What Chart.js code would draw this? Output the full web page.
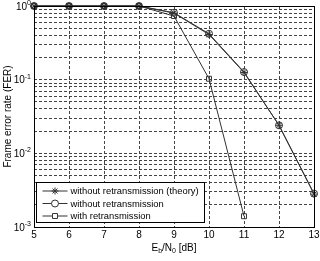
<!DOCTYPE html>
<html>
<head>
<meta charset="utf-8">
<script src="https://cdn.jsdelivr.net/npm/chart.js@4.4.1/dist/chart.umd.min.js"></script>
<style>
html, body { margin: 0; padding: 0; background: #fff; }
#wrap { width: 320px; height: 261px; }
</style>
</head>
<body>
<div id="wrap"><canvas id="ferChart"></canvas></div>
<script>
// Eb/N0 in dB
const snrValues = [5, 6, 7, 8, 9, 10, 11, 12, 13];
const ferTheory = [1, 1, 1, 1, 0.80, 0.41, 0.125, 0.024, 0.0028];
const ferNoRetx = [1, 1, 1, 1, 0.81, 0.42, 0.127, 0.024, 0.00284];
const snrRetx = [5, 6, 7, 8, 9, 10, 11];
const ferRetx = [1, 1, 1, 1, 0.73, 0.103, 0.0014];
const yDecades = [1, 0.1, 0.01, 0.001];
const yExponents = ['0', '-1', '-2', '-3'];
const legendLabels = ['without retransmission (theory)', 'without retransmission', 'with retransmission'];

const FONT = '"Liberation Sans", Arial, sans-serif';

function toPoints(xs, ys) {
	return xs.map((x, i) => ({ x: x, y: ys[i] }));
}

const labelsPlugin = {
	id: 'matlabLabels',
	afterDraw(chart) {
		const ctx = chart.ctx;
		const area = chart.chartArea;
		const xs = chart.scales.x;
		const ys = chart.scales.y;
		ctx.save();

		// frame
		ctx.strokeStyle = '#000';
		ctx.lineWidth = 1;
		ctx.setLineDash([]);
		ctx.strokeRect(Math.round(area.left) + 0.5, Math.round(area.top) + 0.5,
			Math.round(area.right - area.left), Math.round(area.bottom - area.top));

		ctx.fillStyle = '#000';
		// x tick labels
		ctx.font = '10px ' + FONT;
		ctx.textAlign = 'center';
		ctx.textBaseline = 'middle';
		snrValues.forEach((v) => {
			ctx.fillText(String(v), xs.getPixelForValue(v), area.bottom + 8);
		});

		// y tick labels with superscript exponent
		yDecades.forEach((v, i) => {
			const py = ys.getPixelForValue(v);
			ctx.font = '7px ' + FONT;
			ctx.textAlign = 'right';
			const ew = ctx.measureText(yExponents[i]).width;
			ctx.fillText(yExponents[i], area.left - 3, py - 3);
			ctx.font = '10px ' + FONT;
			ctx.fillText('10', area.left - 3 - ew, py + 1);
		});

		// x title: Eb/N0 [dB]
		const parts = [['E', 0], ['b', 1], ['/N', 0], ['0', 1], [' [dB]', 0]];
		let total = 0;
		parts.forEach((p) => {
			ctx.font = (p[1] ? '7px ' : '10px ') + FONT;
			total += ctx.measureText(p[0]).width;
		});
		let cx = (area.left + area.right) / 2 - total / 2;
		ctx.textAlign = 'left';
		parts.forEach((p) => {
			ctx.font = (p[1] ? '7px ' : '10px ') + FONT;
			ctx.fillText(p[0], cx, area.bottom + 21 + (p[1] ? 3 : 0));
			cx += ctx.measureText(p[0]).width;
		});

		// y title
		ctx.save();
		ctx.translate(8, (area.top + area.bottom) / 2);
		ctx.rotate(-Math.PI / 2);
		ctx.textAlign = 'center';
		ctx.font = '10px ' + FONT;
		ctx.fillText('Frame error rate (FER)', 0, 0);
		ctx.restore();

		// legend box
		const lx = Math.round(area.left) + 2.5;
		const ly = 182.5;
		const lw = 168;
		const lh = 40;
		ctx.fillStyle = '#fff';
		ctx.fillRect(lx, ly, lw, lh);
		ctx.strokeStyle = '#000';
		ctx.strokeRect(lx, ly, lw, lh);
		const styles = ['star', 'circle', 'rect'];
		legendLabels.forEach((label, i) => {
			const ry = ly + 8.5 + i * 12.5;
			ctx.strokeStyle = '#333';
			ctx.lineWidth = 1;
			ctx.beginPath();
			ctx.moveTo(lx + 6, ry);
			ctx.lineTo(lx + 31, ry);
			ctx.stroke();
			ctx.fillStyle = '#fff';
			Chart.helpers.drawPoint(ctx, {
				pointStyle: styles[i], radius: 3.5, borderWidth: 1
			}, lx + 18.5, ry);
			ctx.fillStyle = '#000';
			ctx.font = '9.4px ' + FONT;
			ctx.textAlign = 'left';
			ctx.fillText(label, lx + 34, ry + 0.5);
		});

		ctx.restore();
	}
};

const minorTicks = [];
[0.001, 0.01, 0.1].forEach((d) => {
	for (let m = 1; m < 10; m++) {
		minorTicks.push({ value: d * m });
	}
});
minorTicks.push({ value: 1 });

function seriesStyle(label, data, style) {
	return {
		label: label,
		data: data,
		borderColor: '#333',
		borderWidth: 1,
		pointStyle: style,
		pointRadius: 3.5,
		pointBorderColor: '#333',
		pointBackgroundColor: 'rgba(255,255,255,0)',
		fill: false,
		clip: false
	};
}

const ctxEl = document.getElementById('ferChart');
new Chart(ctxEl, {
	type: 'line',
	data: {
		datasets: [
			seriesStyle(legendLabels[0], toPoints(snrValues, ferTheory), 'star'),
			seriesStyle(legendLabels[1], toPoints(snrValues, ferNoRetx), 'circle'),
			seriesStyle(legendLabels[2], toPoints(snrRetx, ferRetx), 'rect')
		]
	},
	options: {
		responsive: true,
		maintainAspectRatio: false,
		animation: false,
		devicePixelRatio: 1,
		layout: { padding: { left: 34, right: 6, top: 6, bottom: 34 } },
		plugins: {
			legend: { display: false },
			tooltip: { enabled: false }
		},
		scales: {
			x: {
				type: 'linear',
				min: 5,
				max: 13,
				ticks: { display: false, stepSize: 1 },
				grid: { color: '#444', lineWidth: 1, drawTicks: false, tickLength: 0 },
				border: { display: false, dash: [3, 2] }
			},
			y: {
				type: 'logarithmic',
				min: 0.001,
				max: 1,
				afterBuildTicks: (scale) => { scale.ticks = minorTicks.slice(); },
				ticks: { display: false },
				grid: { color: '#444', lineWidth: 1, drawTicks: false, tickLength: 0 },
				border: { display: false, dash: [3, 2] }
			}
		}
	},
	plugins: [labelsPlugin]
});
</script>
</body>
</html>
